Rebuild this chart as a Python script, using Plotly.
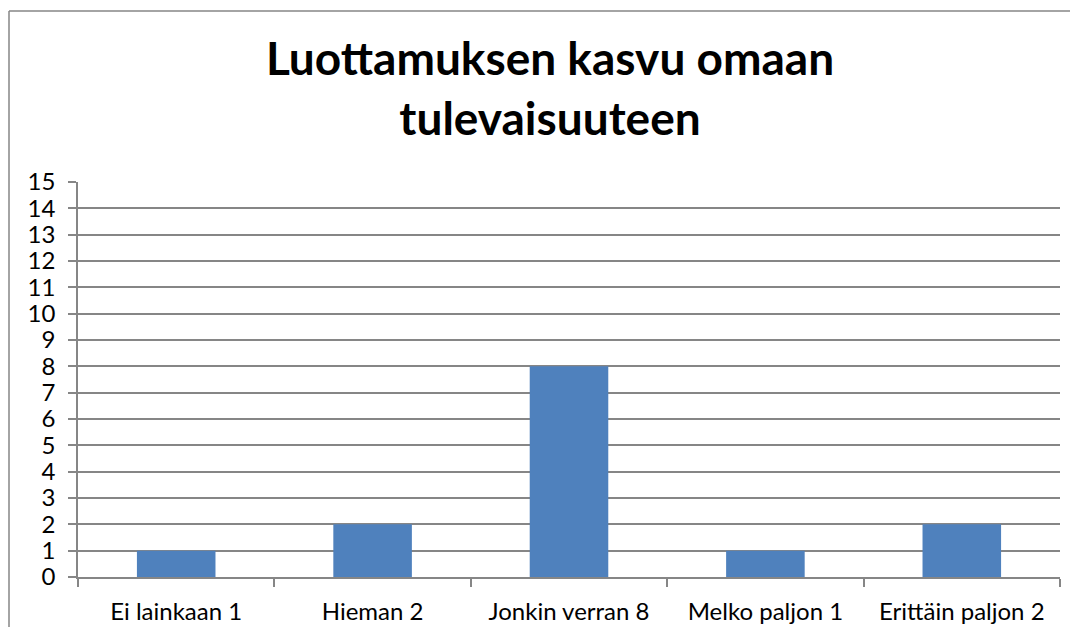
import plotly.graph_objects as go

categories = ["Ei lainkaan 1", "Hieman 2", "Jonkin verran 8", "Melko paljon 1", "Erittäin paljon 2"]
values = [1, 2, 8, 1, 2]
y_ticks = list(range(0, 16))
title_text = "Luottamuksen kasvu omaan<br>tulevaisuuteen"

# page body has an 8px margin; figure coordinates are window coordinates minus 8
OFF = 8
W, H = 1078 - 2 * OFF, 635 - 2 * OFF
ml, mt = 78 - OFF, 182 - OFF
mr = W - (1060 - OFF)
plot_bottom = 577 - OFF
mb = H - plot_bottom
pw = W - ml - mr
ph = H - mt - mb

fig = go.Figure(go.Bar(x=categories, y=values, marker=dict(color="#4F81BD", line=dict(width=0))))

grid = "#868686"
FONT = "Lato, Carlito, Calibri, sans-serif"
fig.update_layout(
    width=W, height=H,
    margin=dict(l=ml, r=mr, t=mt, b=mb, pad=0, autoexpand=False),
    paper_bgcolor="white", plot_bgcolor="white",
    font=dict(family=FONT, color="black", size=24),
    bargap=0.6,
    showlegend=False,
    title=dict(text="<b>" + title_text + "</b>", x=(550 - OFF) / W, xanchor="center",
               xref="container", yref="container", y=1 - (75 - OFF) / H, yanchor="middle",
               font=dict(size=46, family=FONT, color="black")),
    xaxis=dict(showgrid=False, showline=True, linecolor=grid, linewidth=1.5, automargin=False,
               ticks="outside", tickson="boundaries", ticklen=8, tickcolor=grid, tickwidth=1.5,
               tickfont=dict(size=24), ticklabelstandoff=12),
    yaxis=dict(range=[0, 15], tickvals=y_ticks, showgrid=True, gridcolor=grid, gridwidth=1.5,
               showline=True, linecolor=grid, linewidth=1.5, ticks="outside", ticklen=8,
               tickcolor=grid, tickwidth=1.5, tickfont=dict(size=24), zeroline=False,
               ticklabelstandoff=8, automargin=False),
)

# outer chart border: only left and top edges are visible in the view
bx = (9 - OFF - ml) / pw
by = 1 + (mt - (11 - OFF)) / ph
x_right = 1 + (mr + 2) / pw
y_bottom = -(mb + 2) / ph
fig.add_shape(type="line", xref="paper", yref="paper", x0=bx, x1=bx, y0=by, y1=y_bottom,
              line=dict(color=grid, width=1.5), layer="below")
fig.add_shape(type="line", xref="paper", yref="paper", x0=bx, x1=x_right, y0=by, y1=by,
              line=dict(color=grid, width=1.5), layer="below")

fig.write_html("out.html")
